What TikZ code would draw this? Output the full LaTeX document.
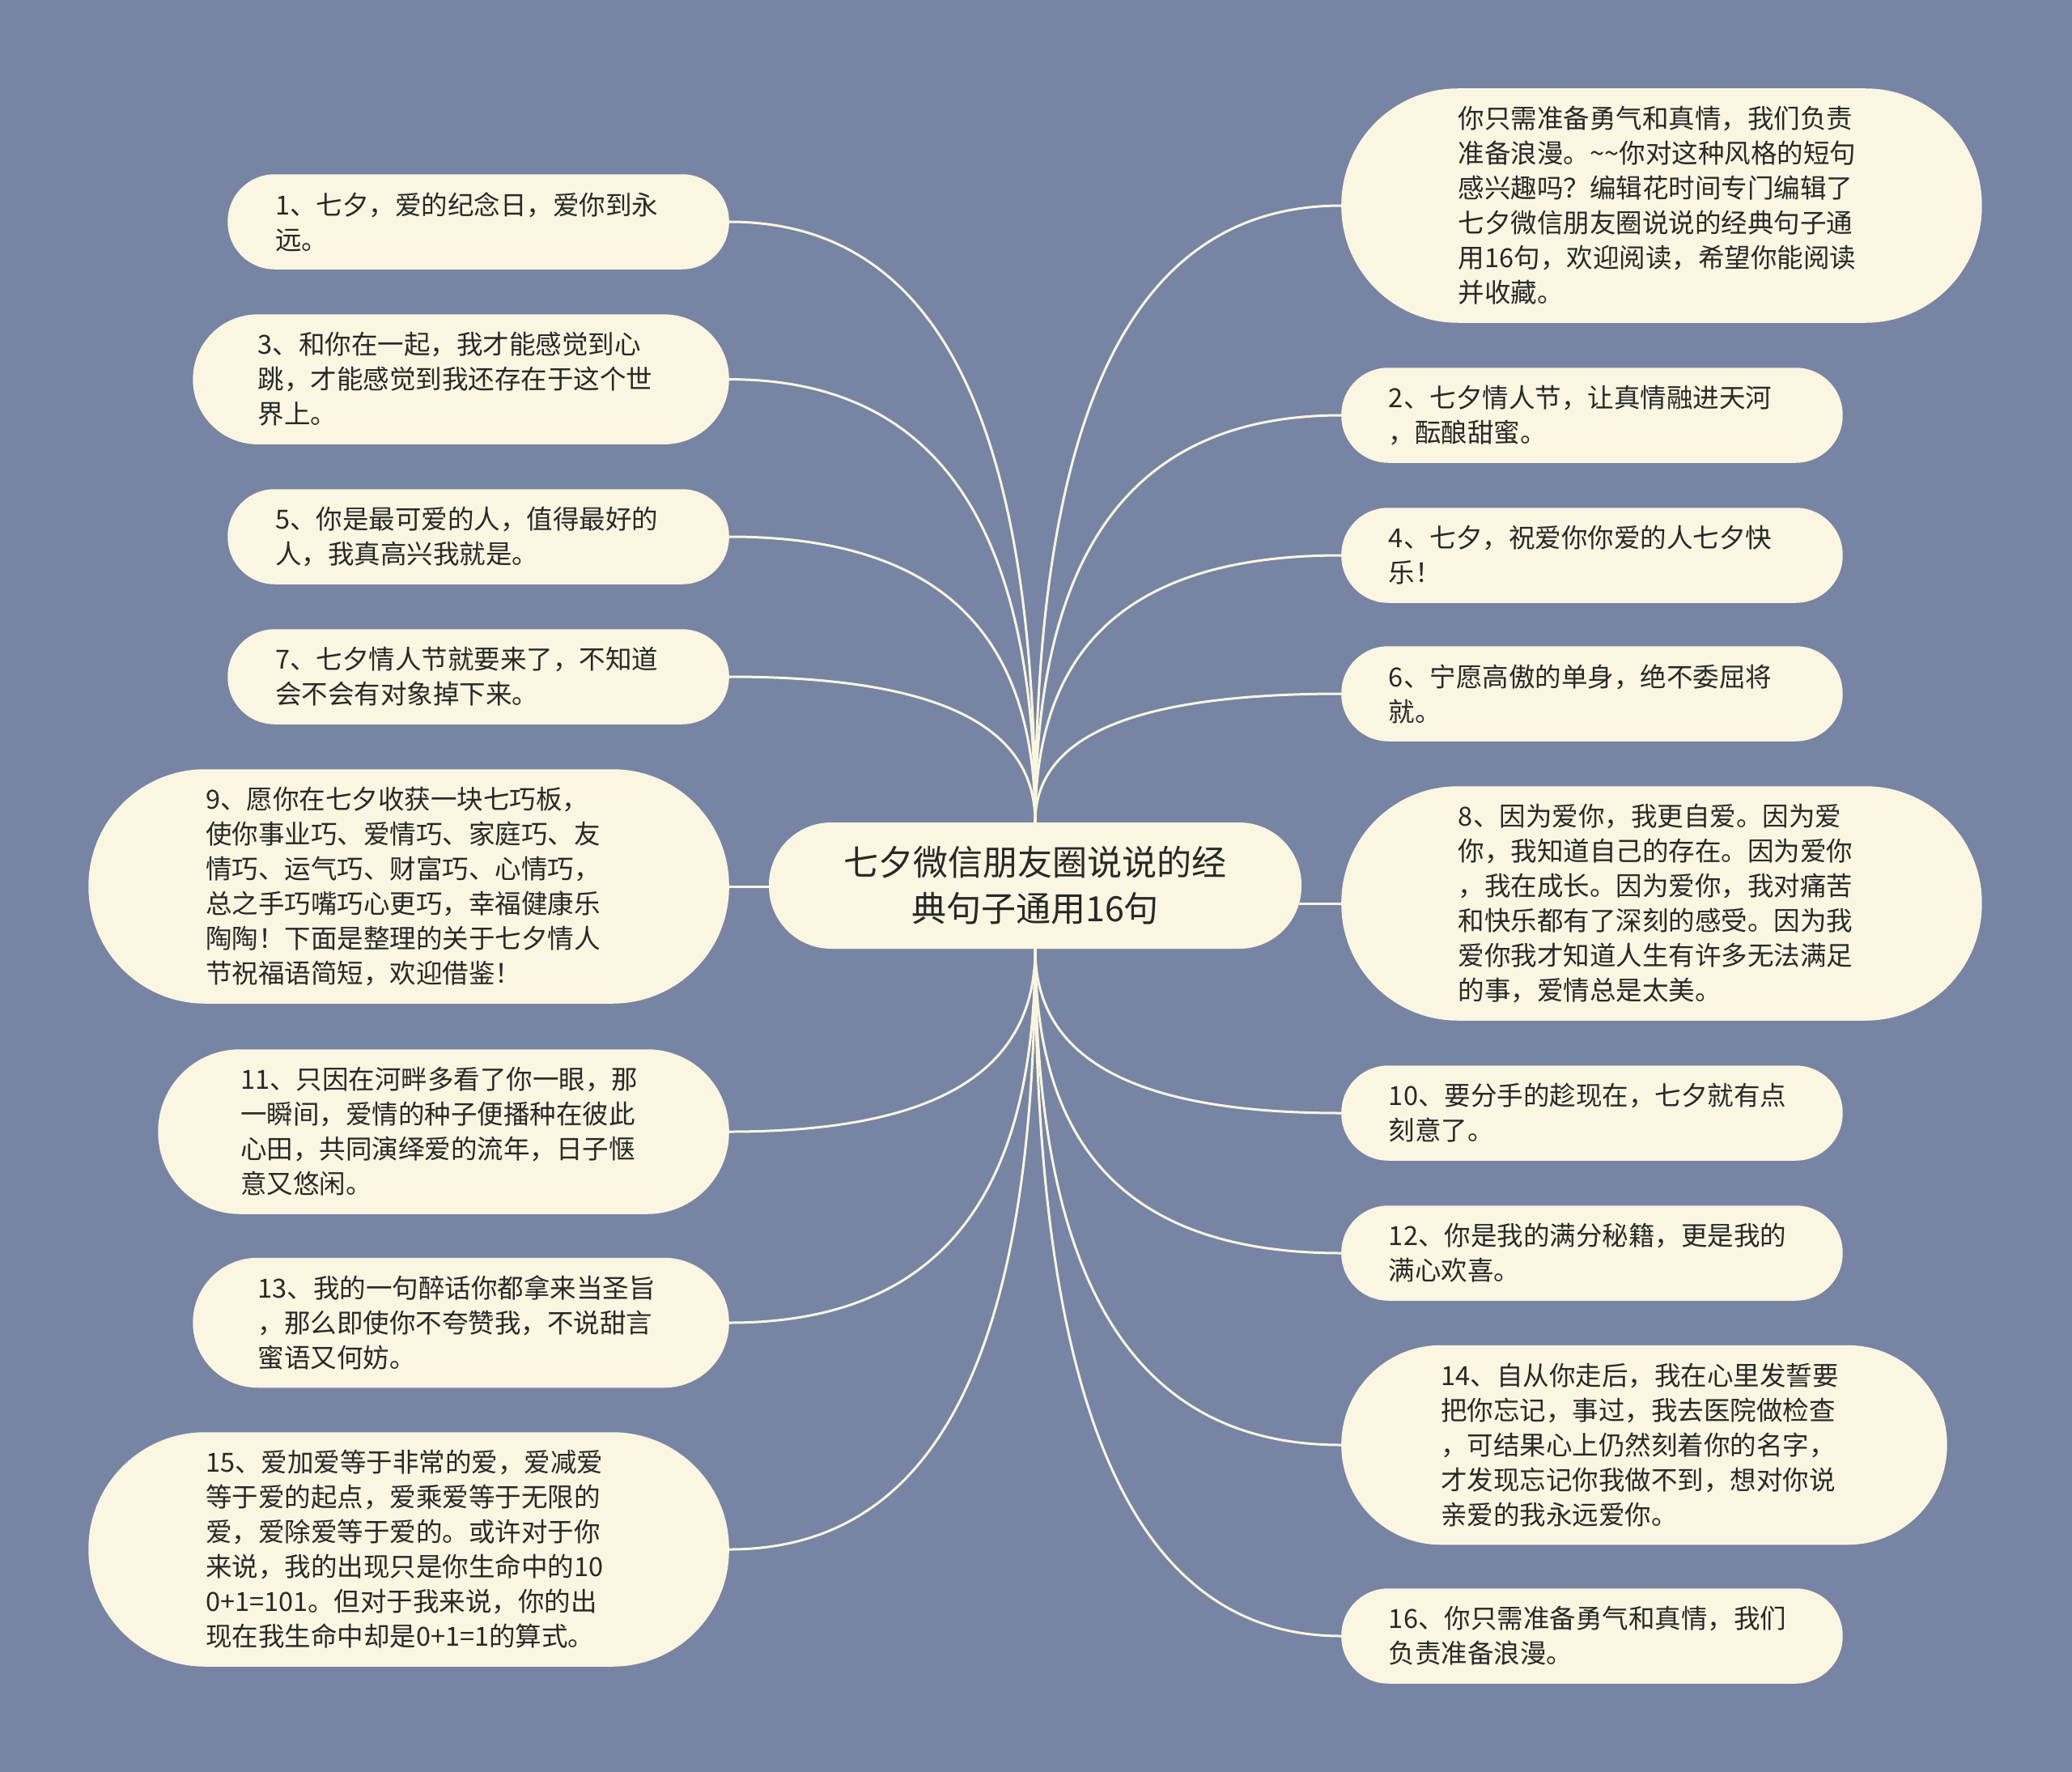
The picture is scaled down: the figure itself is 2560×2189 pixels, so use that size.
\documentclass[tikz,border=0pt]{standalone}
\usepackage{fontspec}
\setmainfont{Noto Sans CJK SC}
\usetikzlibrary{calc,backgrounds}
\definecolor{bgc}{RGB}{119,132,163}
\definecolor{nodec}{RGB}{250,246,225}
\definecolor{linec}{RGB}{250,246,225}
\definecolor{txtc}{RGB}{40,40,40}
\tikzset{
  leafbase/.style={fill=nodec, text=txtc, inner ysep=0pt, text width=502pt, align=left,
    font=\fontsize{32.5}{43}\selectfont},
  leafA/.style={leafbase, minimum height=117.5pt, inner xsep=58.75pt, rounded corners=58pt},
  leafB/.style={leafbase, minimum height=160.5pt, inner xsep=80.25pt, rounded corners=80pt},
  leafC/.style={leafbase, minimum height=203.5pt, inner xsep=101.75pt, rounded corners=101pt},
  leafD/.style={leafbase, minimum height=246.5pt, inner xsep=123.25pt, rounded corners=123pt},
  leafE/.style={leafbase, minimum height=289.5pt, inner xsep=144.75pt, rounded corners=144pt},
  rootbox/.style={fill=nodec, text=txtc, minimum width=658pt, minimum height=156pt,
    inner sep=0pt, rounded corners=77pt, align=center, font=\fontsize{43}{57}\selectfont},
  link/.style={draw=linec, line width=3pt},
}
\newcommand\mmlink[2]{\draw[link] (#1) .. controls ($(#1)!0.65!(#1 |- #2)$) and ($(#2)!0.7!(#1 |- #2)$) .. (#2);}
\begin{document}
\begin{tikzpicture}[x=1pt,y=-1pt]
\useasboundingbox (0,0) rectangle (2560,2189);
% root
\node[rootbox] (c) at (1279,1094) {七夕微信朋友圈说说的经\\典句子通用16句};
% left
\node[leafA, anchor=east] (L1) at (901,274) {1、七夕，爱的纪念日，爱你到永\\远。};
\node[leafB, anchor=east] (L3) at (901,468.6) {3、和你在一起，我才能感觉到心\\跳，才能感觉到我还存在于这个世\\界上。};
\node[leafA, anchor=east] (L5) at (901,663) {5、你是最可爱的人，值得最好的\\人，我真高兴我就是。};
\node[leafA, anchor=east] (L7) at (901,836) {7、七夕情人节就要来了，不知道\\会不会有对象掉下来。};
\node[leafE, anchor=east] (L9) at (901,1095) {9、愿你在七夕收获一块七巧板，\\使你事业巧、爱情巧、家庭巧、友\\情巧、运气巧、财富巧、心情巧，\\总之手巧嘴巧心更巧，幸福健康乐\\陶陶！下面是整理的关于七夕情人\\节祝福语简短，欢迎借鉴！};
\node[leafC, anchor=east] (L11) at (901,1398) {11、只因在河畔多看了你一眼，那\\一瞬间，爱情的种子便播种在彼此\\心田，共同演绎爱的流年，日子惬\\意又悠闲。};
\node[leafB, anchor=east] (L13) at (901,1634) {13、我的一句醉话你都拿来当圣旨\\，那么即使你不夸赞我，不说甜言\\蜜语又何妨。};
\node[leafE, anchor=east] (L15) at (901,1914) {15、爱加爱等于非常的爱，爱减爱\\等于爱的起点，爱乘爱等于无限的\\爱，爱除爱等于爱的。或许对于你\\来说，我的出现只是你生命中的10\\0+1=101。但对于我来说，你的出\\现在我生命中却是0+1=1的算式。};
% right
\node[leafE, anchor=west] (R0) at (1657,254) {你只需准备勇气和真情，我们负责\\准备浪漫。\textasciitilde\textasciitilde 你对这种风格的短句\\感兴趣吗？编辑花时间专门编辑了\\七夕微信朋友圈说说的经典句子通\\用16句，欢迎阅读，希望你能阅读\\并收藏。};
\node[leafA, anchor=west] (R2) at (1657,513) {2、七夕情人节，让真情融进天河\\，酝酿甜蜜。};
\node[leafA, anchor=west] (R4) at (1657,686) {4、七夕，祝爱你你爱的人七夕快\\乐！};
\node[leafA, anchor=west] (R6) at (1657,857) {6、宁愿高傲的单身，绝不委屈将\\就。};
\node[leafE, anchor=west] (R8) at (1657,1116) {8、因为爱你，我更自爱。因为爱\\你，我知道自己的存在。因为爱你\\，我在成长。因为爱你，我对痛苦\\和快乐都有了深刻的感受。因为我\\爱你我才知道人生有许多无法满足\\的事，爱情总是太美。};
\node[leafA, anchor=west] (R10) at (1657,1375) {10、要分手的趁现在，七夕就有点\\刻意了。};
\node[leafA, anchor=west] (R12) at (1657,1548) {12、你是我的满分秘籍，更是我的\\满心欢喜。};
\node[leafD, anchor=west] (R14) at (1657,1785) {14、自从你走后，我在心里发誓要\\把你忘记，事过，我去医院做检查\\，可结果心上仍然刻着你的名字，\\才发现忘记你我做不到，想对你说\\亲爱的我永远爱你。};
\node[leafA, anchor=west] (R16) at (1657,2021) {16、你只需准备勇气和真情，我们\\负责准备浪漫。};
\begin{pgfonlayer}{background}
\fill[bgc] (0,0) rectangle (2560,2189);
\mmlink{c.north}{L1.east}
\mmlink{c.north}{L3.east}
\mmlink{c.north}{L5.east}
\mmlink{c.north}{L7.east}
\draw[link] (L9.east) -- (L9.east -| c.center);
\mmlink{c.south}{L11.east}
\mmlink{c.south}{L13.east}
\mmlink{c.south}{L15.east}
\mmlink{c.north}{R0.west}
\mmlink{c.north}{R2.west}
\mmlink{c.north}{R4.west}
\mmlink{c.north}{R6.west}
\draw[link] (R8.west) -- (R8.west -| c.center);
\mmlink{c.south}{R10.west}
\mmlink{c.south}{R12.west}
\mmlink{c.south}{R14.west}
\mmlink{c.south}{R16.west}
\end{pgfonlayer}
\end{tikzpicture}
\end{document}
